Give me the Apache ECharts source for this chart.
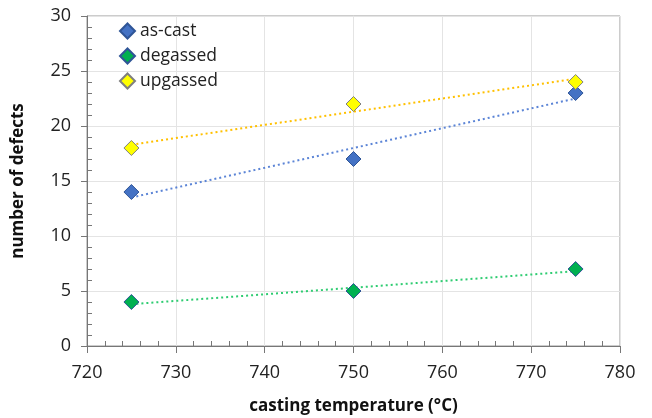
<!DOCTYPE html>
<html>
<head>
<meta charset="utf-8">
<script src="https://cdn.jsdelivr.net/npm/echarts@6/dist/echarts.min.js"></script>
<style>
  html, body { margin: 0; padding: 0; background: #fff; }
  #chart { width: 652px; height: 418px; }
</style>
</head>
<body>
<div id="chart"></div>
<script>
// data
var temps = [725, 750, 775];
var asCast = [14, 17, 23];
var degassed = [4, 5, 7];
var upgassed = [18, 22, 24];
// dotted trend lines, endpoints read at 725 and 775
var trendX = [725, 775];
var asCastTrend = [13.5, 22.5];
var degassedTrend = [3.8, 6.8];
var upgassedTrend = [18.3, 24.3];

function pairs(xs, ys) {
  return xs.map(function (x, i) { return [x, ys[i]]; });
}

var font = "'Open Sans', 'Noto Sans', sans-serif";

function trend(name, ys, color) {
  return {
    name: name + ' trend',
    type: 'line',
    data: pairs(trendX, ys),
    symbol: 'none',
    silent: true,
    z: 1,
    lineStyle: { color: color, width: 2, type: [2, 3] }
  };
}

function points(name, ys, fill, border) {
  return {
    name: name,
    type: 'scatter',
    data: pairs(temps, ys),
    symbol: 'diamond',
    symbolSize: 15,
    z: 3,
    itemStyle: { color: fill, borderColor: border, borderWidth: 1, opacity: 1 }
  };
}

var chart = echarts.init(document.getElementById('chart'));
chart.setOption({
  animation: false,
  textStyle: { fontFamily: font },
  grid: {
    left: 87, right: 32, top: 16, bottom: 72, outerBoundsMode: 'none',
    show: true, borderColor: '#999', borderWidth: 1
  },
  legend: {
    left: 114, top: 17, orient: 'vertical', itemGap: 7,
    itemWidth: 15, itemHeight: 15,
    data: ['as-cast', 'degassed', 'upgassed'],
    textStyle: { fontFamily: font, fontSize: 17.5, color: '#222' }
  },
  xAxis: {
    type: 'value', min: 720, max: 780, interval: 10,
    name: 'casting temperature (°C)', nameLocation: 'middle', nameGap: 52,
    nameTextStyle: { fontFamily: font, fontSize: 17, fontWeight: 'bold', color: '#111' },
    axisLine: { lineStyle: { color: '#777', width: 1 } },
    axisTick: { show: true, length: 7, lineStyle: { color: '#777' } },
    minorTick: { show: true, splitNumber: 5, length: -5, lineStyle: { color: '#777' } },
    splitLine: { show: true, lineStyle: { color: '#e4e4e4' } },
    axisLabel: { fontSize: 18, color: '#222', margin: 18 }
  },
  yAxis: {
    type: 'value', min: 0, max: 30, interval: 5,
    name: 'number of defects', nameLocation: 'middle', nameGap: 60,
    nameTextStyle: { fontFamily: font, fontSize: 17, fontWeight: 'bold', color: '#111' },
    axisLine: { show: true, lineStyle: { color: '#777', width: 1 } },
    axisTick: { show: true, length: 6, lineStyle: { color: '#777' } },
    minorTick: { show: true, splitNumber: 5, length: -5, lineStyle: { color: '#777' } },
    splitLine: { show: true, lineStyle: { color: '#e4e4e4' } },
    axisLabel: { fontSize: 18, color: '#222', margin: 16 }
  },
  series: [
    trend('as-cast', asCastTrend, '#5b84d6'),
    trend('degassed', degassedTrend, '#2ecc71'),
    trend('upgassed', upgassedTrend, '#ffc000'),
    points('as-cast', asCast, '#4472c4', '#2f5597'),
    points('degassed', degassed, '#00b050', '#2f5597'),
    points('upgassed', upgassed, '#ffff00', '#7f7f7f')
  ]
});
</script>
</body>
</html>
